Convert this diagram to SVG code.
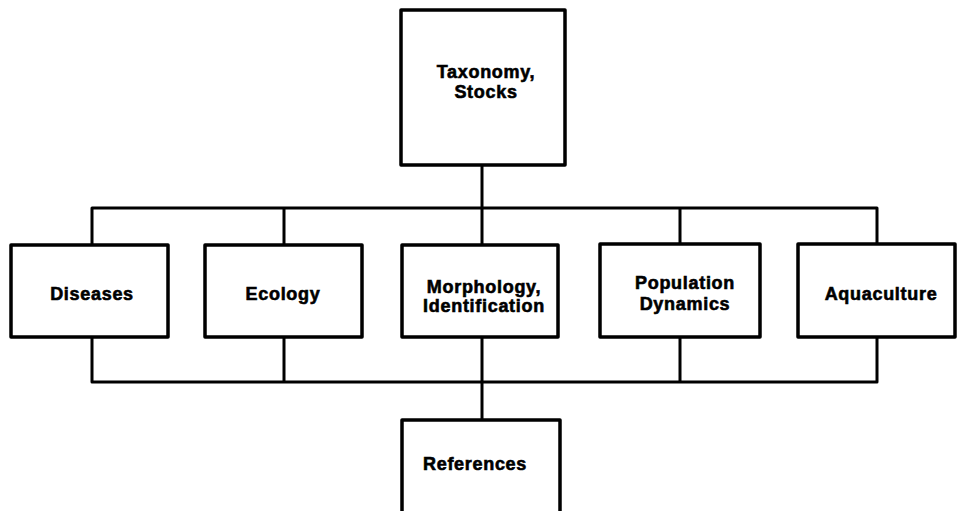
<svg xmlns="http://www.w3.org/2000/svg" width="963" height="511" viewBox="0 0 963 511">
<style>
.box{fill:#fff;stroke:#000;stroke-width:3.5;stroke-linejoin:round}
.ln{fill:none;stroke:#000;stroke-width:3;stroke-linejoin:round}
.t{font-family:"Liberation Sans",Arial,sans-serif;font-weight:bold;font-size:18px;letter-spacing:0.7px;fill:#000;stroke:#000;stroke-width:0.6;text-anchor:middle}
</style>
<rect width="963" height="511" fill="#fff"/>
<g id="connectors">
<path class="ln" d="M482,165 V208"/>
<path class="ln" d="M92,245 V208 H877 V245"/>
<path class="ln" d="M284,208 V245 M482,208 V245 M680,208 V245"/>
<path class="ln" d="M92,337 V382 H877 V337"/>
<path class="ln" d="M284,337 V382 M482,337 V382 M680,337 V382"/>
<path class="ln" d="M482,382 V420"/>
</g>
<g id="taxonomy">
<rect class="box" x="401" y="10" width="164" height="155"/>
<text class="t" x="486" y="78">Taxonomy,</text>
<text class="t" x="486" y="98">Stocks</text>
</g>
<g id="diseases">
<rect class="box" x="11" y="245" width="157" height="92"/>
<text class="t" x="92" y="300">Diseases</text>
</g>
<g id="ecology">
<rect class="box" x="205" y="245" width="157" height="92"/>
<text class="t" x="283" y="300">Ecology</text>
</g>
<g id="morphology">
<rect class="box" x="402" y="245" width="156" height="92"/>
<text class="t" x="484" y="293">Morphology,</text>
<text class="t" x="484" y="312">Identification</text>
</g>
<g id="population">
<rect class="box" x="600" y="244" width="160" height="93"/>
<text class="t" x="685" y="289">Population</text>
<text class="t" x="685" y="310">Dynamics</text>
</g>
<g id="aquaculture">
<rect class="box" x="798" y="244" width="157" height="93"/>
<text class="t" x="881" y="300">Aquaculture</text>
</g>
<g id="references">
<rect class="box" x="402" y="420" width="158" height="110"/>
<text class="t" x="475" y="470">References</text>
</g>
</svg>
